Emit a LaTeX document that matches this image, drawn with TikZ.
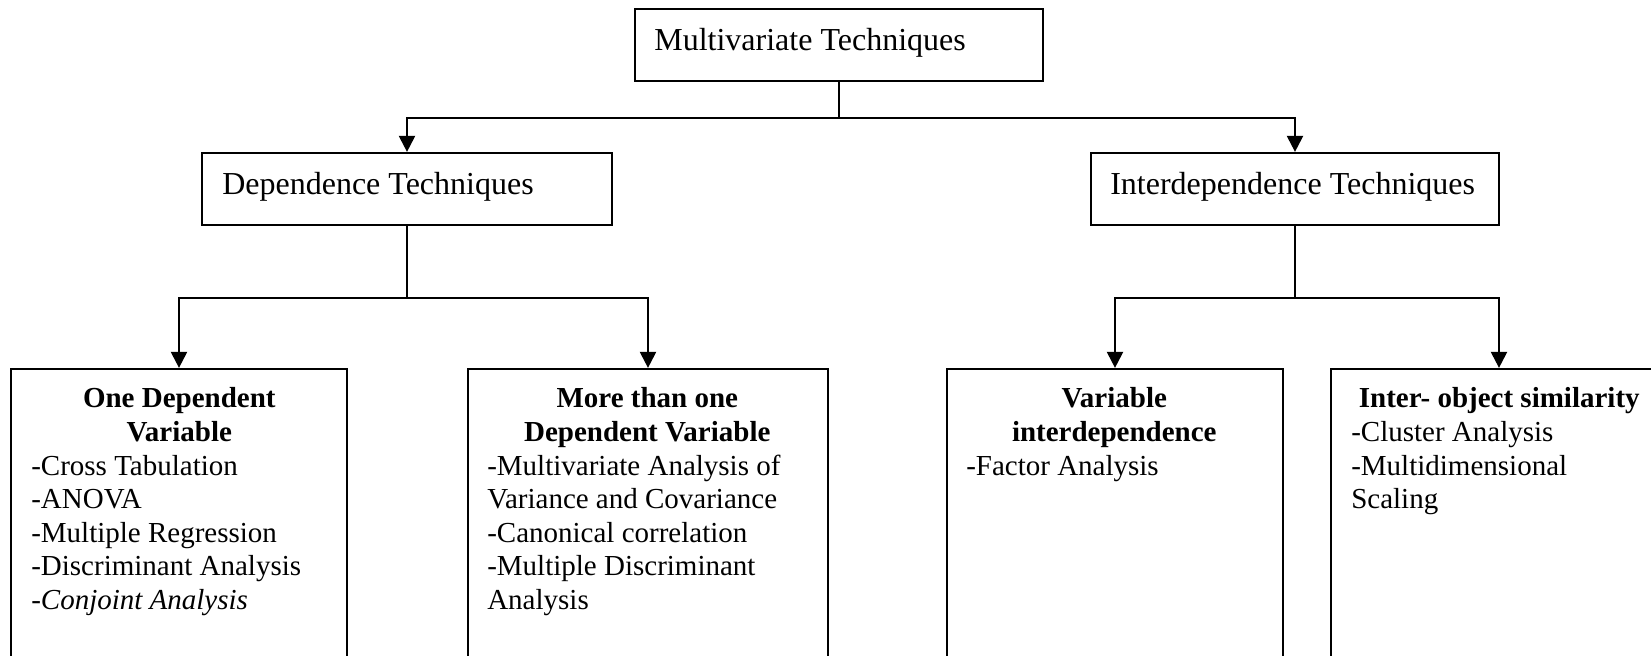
\documentclass[tikz,border=0pt]{standalone}
\usepackage{fontspec}
\setmainfont{Liberation Serif}
\usetikzlibrary{arrows.meta,calc}
\begin{document}
\begin{tikzpicture}[x=0.5pt,y=-0.5pt,
  box/.style={draw, line width=1.1pt, rectangle, inner sep=0pt},
  headbox/.style={box, minimum height=36pt},
  leafbox/.style={box, minimum height=175.5pt},
  headtext/.style={inner sep=0pt, anchor=base west, font=\fontsize{16}{19}\selectfont},
  bodytext/.style={inner sep=0pt, anchor=base west, font=\fontsize{14.5}{16.8}\selectfont},
  link/.style={line width=1.1pt},
  arr/.style={link, -{Triangle[width=8pt,length=8pt]}}]
\useasboundingbox (0,0) rectangle (1651,656);
\clip (0,0) rectangle (1651,656);

% top level
\node[headbox, minimum width=204pt] (mt) at (839,45) {};
\node[headtext] (mtt) at ($(mt.north west)+(20,43)$) {Multivariate Techniques};

% second level
\node[headbox, minimum width=205pt] (dep) at (407,189) {};
\node[headtext] (dept) at ($(dep.north west)+(21,43)$) {Dependence Techniques};
\node[headbox, minimum width=204pt] (inter) at (1295,189) {};
\node[headtext] (intert) at ($(inter.north west)+(20,43)$) {Interdependence Techniques};

% leaf boxes (they run past the lower edge)
\node[leafbox, minimum width=168pt] (one) at (179,544.5) {};
\node[leafbox, minimum width=180pt] (more) at (648,544.5) {};
\node[leafbox, minimum width=168pt] (var) at (1115,544.5) {};
\node[leafbox, minimum width=168pt] (obj) at (1499,544.5) {};

\node[bodytext] (onet) at ($(one.north west)+(21,40)$) {\parbox[t]{148pt}{%
  \centering\bfseries One Dependent\\Variable\par
  \mdseries\raggedright
  -Cross Tabulation\\
  -ANOVA\\
  -Multiple Regression\\
  -Discriminant Analysis\\
  -\textit{Conjoint Analysis}}};

\node[bodytext] (moret) at ($(more.north west)+(20,40)$) {\parbox[t]{160pt}{%
  \centering\bfseries More than one\\Dependent Variable\par
  \mdseries\raggedright
  -Multivariate Analysis of\\
  Variance and Covariance\\
  -Canonical correlation\\
  -Multiple Discriminant\\
  Analysis}};

\node[bodytext] (vart) at ($(var.north west)+(20,40)$) {\parbox[t]{148pt}{%
  \centering\bfseries Variable\\interdependence\par
  \mdseries\raggedright
  -Factor Analysis}};

\node[bodytext] (objt) at ($(obj.north west)+(21,40)$) {\parbox[t]{148pt}{%
  \centering\bfseries Inter- object similarity\par
  \mdseries\raggedright
  -Cluster Analysis\\
  -Multidimensional\\
  Scaling}};

% connectors
\draw[arr] (mt.south) -- ++(0,36) coordinate (tj) -| (dep.north);
\draw[arr] (tj) -| (inter.north);
\draw[arr] (dep.south) -- ++(0,72) coordinate (dj) -| (one.north);
\draw[arr] (dj) -| (more.north);
\draw[arr] (inter.south) -- ++(0,72) coordinate (ij) -| (var.north);
\draw[arr] (ij) -| (obj.north);
\end{tikzpicture}
\end{document}
